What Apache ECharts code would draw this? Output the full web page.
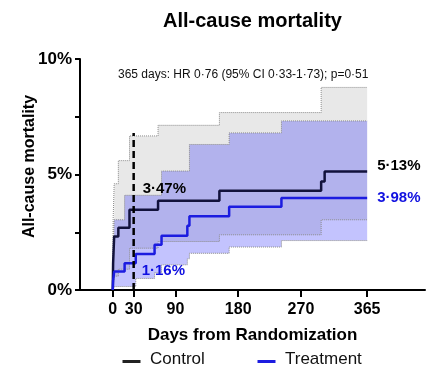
<!DOCTYPE html>
<html><head><meta charset="utf-8">
<script src="https://cdn.jsdelivr.net/npm/echarts@6/dist/echarts.min.js"></script>
<style>html,body{margin:0;padding:0;background:#fff}#c{width:426px;height:368px}</style>
</head><body><div id="c"></div>
<script>
const FONT = '"Liberation Sans", Arial, Helvetica, sans-serif';

// Tick values and labels
const xTicks = [0, 30, 90, 180, 270, 365];
const yTicks = [0, 2.5, 5, 7.5, 10];
const yTickLabels = ['0%', '', '5%', '', '10%'];

// Control arm (Kaplan-Meier cumulative mortality, %)
const ctrlDays  = [0, 0.5, 2, 8, 24, 65, 153, 299, 304, 365];
const ctrlEst   = [0, 1.16, 2.32, 2.70, 3.47, 3.86, 4.30, 4.70, 5.13, 5.13];
const ctrlUpper = [0, 3.0, 4.6, 5.6, 6.67, 7.13, 7.68, 8.77, 8.77, 8.77];
const ctrlLower = [0, 0.05, 0.6, 0.9, 1.81, 2.10, 2.39, 3.04, 3.04, 3.04];

// Treatment arm
const trtDays  = [0, 0.5, 2, 17, 33, 60, 70, 107, 110, 167, 242, 365];
const trtEst   = [0, 0.4, 0.8, 1.16, 1.56, 1.96, 2.35, 2.78, 3.19, 3.60, 3.98, 3.98];
const trtUpper = [0, 1.6, 3.04, 4.1, 4.1, 4.1, 5.15, 5.15, 6.3, 6.8, 7.32, 7.32];
const trtLower = [0, 0.02, 0.15, 0.15, 0.5, 0.75, 1.09, 1.35, 1.59, 1.86, 2.14, 2.14];

// Reference line at 30 days
const dashDay = 30;
const dashTop = 6.8;

// Annotations
const annDays   = [30, 30, 365, 365];
const annValues = [3.47, 1.16, 5.13, 3.98];
const annText   = ['3·47%', '1·16%', '5·13%', '3·98%'];

const titleText = 'All-cause mortality';
const subText = '365 days: HR 0·76 (95% CI 0·33-1·73); p=0·51';

const CTRL = '#12123c';
const TRT = '#1c1ce0';

function bandRender(days, lo, hi, fill) {
  return function (params, api) {
    const pts = [];
    for (let i = 0; i < days.length; i++) {
      if (i > 0) pts.push(api.coord([days[i], hi[i - 1]]));
      pts.push(api.coord([days[i], hi[i]]));
    }
    for (let i = days.length - 1; i >= 0; i--) {
      pts.push(api.coord([days[i], lo[i]]));
      if (i > 0) pts.push(api.coord([days[i], lo[i - 1]]));
    }
    return { type: 'polygon', shape: { points: pts }, style: { fill: fill } };
  };
}
function pairs(days, vals) { return days.map((d, i) => [d, vals[i]]); }
function dotted(name, days, vals) {
  return { name, type: 'line', step: 'end', data: pairs(days, vals), symbol: 'none', silent: true,
    lineStyle: { color: '#8a8a8a', width: 1, type: 'dotted' }, z: 3 };
}

const chart = echarts.init(document.getElementById('c'), null, { renderer: 'canvas' });
chart.setOption({
  animation: false,
  backgroundColor: '#fff',
  textStyle: { fontFamily: FONT },
  title: [
    { text: titleText, left: 163, top: 11, padding: 0,
      textStyle: { fontFamily: FONT, fontSize: 20, fontWeight: 'bold', color: '#000' } },
    { text: subText, left: 118, top: 69, padding: 0,
      textStyle: { fontFamily: FONT, fontSize: 12, fontWeight: 'normal', color: '#111' } }
  ],
  grid: { left: 80, right: 1, top: 59, bottom: 78, containLabel: false },
  xAxis: {
    type: 'value', min: -47, max: 448,
    name: 'Days from Randomization', nameLocation: 'middle', nameGap: 37, nameMoveOverlap: false,
    nameTextStyle: { fontFamily: FONT, fontSize: 17, fontWeight: 'bold', color: '#000' },
    axisLine: { show: true, onZero: false, lineStyle: { color: '#000', width: 2 } },
    axisTick: { show: true, length: 7, lineStyle: { color: '#000', width: 2 }, customValues: xTicks },
    axisLabel: { customValues: xTicks, hideOverlap: false, showMinLabel: true, showMaxLabel: true,
      margin: 12, fontFamily: FONT, fontSize: 16, fontWeight: 'bold', color: '#000' },
    splitLine: { show: false }
  },
  yAxis: {
    type: 'value', min: 0, max: 10, interval: 2.5,
    name: 'All-cause mortality', nameLocation: 'middle', nameGap: 42, nameMoveOverlap: false,
    nameTextStyle: { fontFamily: FONT, fontSize: 16, fontWeight: 'bold', color: '#000', padding: [0, 0, 0, 16] },
    axisLine: { show: true, onZero: false, lineStyle: { color: '#000', width: 2 } },
    axisTick: { show: true, length: 5, lineStyle: { color: '#000', width: 2 } },
    axisLabel: { margin: 8, fontFamily: FONT, fontSize: 17, fontWeight: 'bold', color: '#000',
      formatter: v => { const i = yTicks.indexOf(v); return i >= 0 ? yTickLabels[i] : ''; } },
    splitLine: { show: false }
  },
  graphic: [
    { type: 'line', left: 120, top: 359, shape: { x1: 0, y1: 0, x2: 18, y2: 0 }, style: { stroke: '#222', lineWidth: 3 } },
    { type: 'text', left: 150, top: 351, style: { text: 'Control', font: '17px ' + FONT, fill: '#111' } },
    { type: 'line', left: 255, top: 359, shape: { x1: 0, y1: 0, x2: 18, y2: 0 }, style: { stroke: TRT, lineWidth: 3 } },
    { type: 'text', left: 285, top: 351, style: { text: 'Treatment', font: '17px ' + FONT, fill: '#111' } }
  ],
  series: [
    { type: 'custom', name: 'ctrlBand', renderItem: bandRender(ctrlDays, ctrlLower, ctrlUpper, '#e8e8e8'),
      data: [[0, 0]], silent: true, z: 1 },
    { type: 'custom', name: 'trtBand', renderItem: bandRender(trtDays, trtLower, trtUpper, 'rgba(40,40,250,0.28)'),
      data: [[0, 0]], silent: true, z: 2 },
    dotted('ctrlUpper', ctrlDays, ctrlUpper),
    dotted('ctrlLower', ctrlDays, ctrlLower),
    dotted('trtUpper', trtDays, trtUpper),
    dotted('trtLower', trtDays, trtLower),
    { name: 'Control', type: 'line', step: 'end', data: pairs(ctrlDays, ctrlEst), symbol: 'none',
      lineStyle: { color: CTRL, width: 2.5 }, z: 5 },
    { name: 'Treatment', type: 'line', step: 'end', data: pairs(trtDays, trtEst), symbol: 'none',
      lineStyle: { color: TRT, width: 2.5 }, z: 5 },
    { name: 'day30', type: 'line', data: [[dashDay, 0], [dashDay, dashTop]], symbol: 'none',
      lineStyle: { color: '#000', width: 2.5, type: [7, 4] }, z: 6 },
    { name: 'ann', type: 'scatter', symbolSize: 0, z: 7, silent: true,
      itemStyle: { opacity: 1 },
      data: annDays.map((d, i) => ({
        value: [d, annValues[i]],
        label: {
          show: true, formatter: annText[i], position: 'right', distance: 0,
          offset: [[9, -21], [8, 8], [10, -6], [10, 0]][i],
          fontFamily: FONT, fontSize: 15, fontWeight: 'bold',
          color: i % 2 === 0 ? '#000' : '#1010e0',
          textBorderWidth: 0, textBorderColor: 'transparent', opacity: 1
        }
      }))
    }
  ]
});
</script></body></html>
